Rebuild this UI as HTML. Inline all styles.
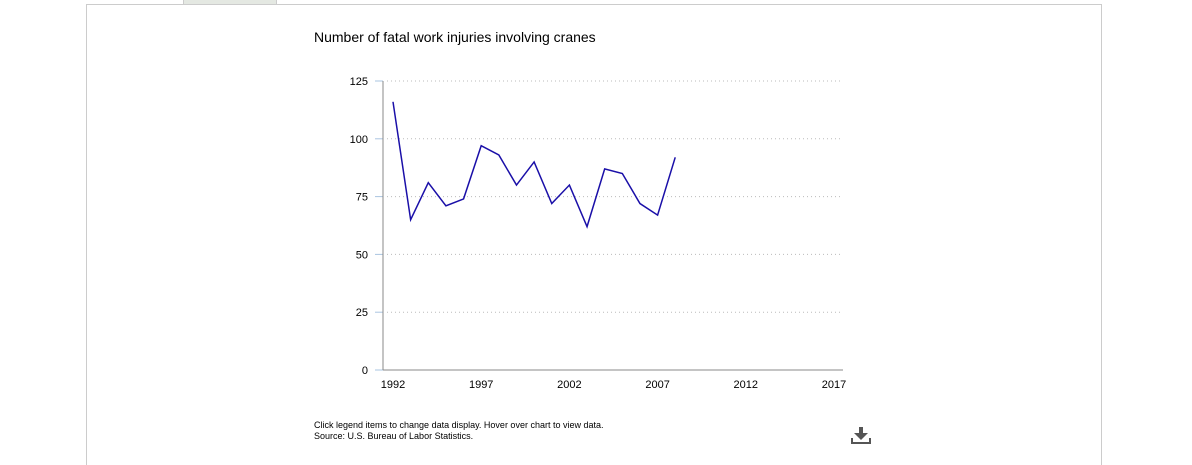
<!DOCTYPE html>
<html><head><meta charset="utf-8"><style>
body{margin:0;background:#fff;font-family:"Liberation Sans",sans-serif;}
</style></head><body>
<div style="position:absolute;left:86px;top:4px;width:1014px;height:460px;border:1px solid #ccc;border-bottom:none"></div>
<div style="position:absolute;left:183px;top:0;width:92px;height:4px;background:#e4e8e2;border:1px solid #ccc;border-top:none"></div>
<svg width="1192" height="450" style="position:absolute;left:0;top:0">
<text x="314" y="42" font-size="14" fill="#000">Number of fatal work injuries involving cranes</text>
<g id="grid"></g><g id="xax"></g><path id="line" fill="none" stroke="#1a0fa8" stroke-width="1.5"/>
<line x1="383" y1="81" x2="383" y2="370" stroke="#888"/>
<line x1="383" y1="370" x2="843" y2="370" stroke="#888"/>
<text x="314" y="428" font-size="9" fill="#000">Click legend items to change data display. Hover over chart to view data.</text>
<text x="314" y="439" font-size="9" fill="#000">Source: U.S. Bureau of Labor Statistics.</text>
<g fill="#555"><rect x="859" y="427" width="4" height="7"/><polygon points="854,433 868,433 861,440"/><rect x="851" y="442" width="20" height="2"/><rect x="851" y="438" width="2" height="6"/><rect x="869" y="438" width="2" height="6"/></g>
</svg>
<script>
const years=[1992,1993,1994,1995,1996,1997,1998,1999,2000,2001,2002,2003,2004,2005,2006,2007,2008];
const values=[116,65,81,71,74,97,93,80,90,72,80,62,87,85,72,67,92];
const yTicks=[0,25,50,75,100,125];
const xTicks=[1992,1997,2002,2007,2012,2017];
const X=y=>393+(y-1992)*(834-393)/25, Y=v=>370-v*(289/125);
const ns="http://www.w3.org/2000/svg";
const g=document.getElementById('grid'), xa=document.getElementById('xax');
function mk(t,a,p){const e=document.createElementNS(ns,t);for(const k in a)e.setAttribute(k,a[k]);p.appendChild(e);return e;}
yTicks.forEach(v=>{
 if(v>0){const l=mk('line',{x1:387,x2:843,y1:Y(v),y2:Y(v),stroke:'#bbb','stroke-dasharray':'1,3'},g);
 
 }
 const tk=mk('line',{x1:375,x2:383,y1:Y(v),y2:Y(v),stroke:'#aac4e0'},g);
 
 
 const t=mk('text',{x:368,y:Y(v)+4,'font-size':11,'text-anchor':'end'},g);t.textContent=v;
 
 
});
xTicks.forEach(v=>{
 const t=mk('text',{x:X(v),y:388,'font-size':11,'text-anchor':'middle'},xa);t.textContent=v;
 
 
});
document.getElementById('line').setAttribute('d',years.map((y,i)=>(i?'L':'M')+X(y)+','+Y(values[i])).join(''));
</script>
</body></html>
